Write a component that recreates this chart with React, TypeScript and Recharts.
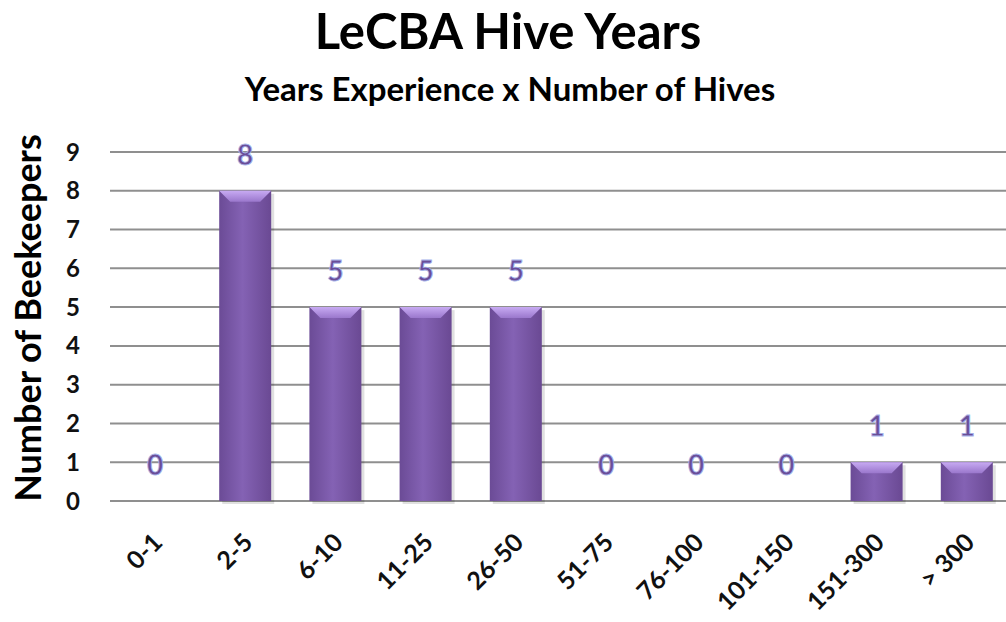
import { Bar, BarChart, CartesianGrid, LabelList, XAxis, YAxis } from "recharts";

const categories = ["0-1", "2-5", "6-10", "11-25", "26-50", "51-75", "76-100", "101-150", "151-300", "> 300"];
const beekeepers = [0, 8, 5, 5, 5, 0, 0, 0, 1, 1];
const yTicks = [0, 1, 2, 3, 4, 5, 6, 7, 8, 9];

const data = categories.map((range, i) => ({ range, count: beekeepers[i] }));

const FONT = "Lato, 'Open Sans', sans-serif";

function BevelBar(props: any) {
  const { x, y, width, height } = props;
  if (!height || height <= 0) return null;
  const b = Math.min(11, height / 2);
  return (
    <g>
      <rect x={x + 3} y={y + 3} width={width} height={height} fill="rgba(0,0,0,0.12)" />
      <rect x={x} y={y} width={width} height={height} fill="url(#barBody)" />
      <polygon
        points={`${x},${y} ${x + width},${y} ${x + width - b},${y + b} ${x + b},${y + b}`}
        fill="url(#barTop)"
      />
    </g>
  );
}

function XTick(props: any) {
  const { x, y, payload } = props;
  return (
    <text
      x={x + 9}
      y={y + 35}
      transform={`rotate(-45, ${x + 9}, ${y + 35})`}
      textAnchor="end"
      fontFamily={FONT}
      fontWeight={700}
      fontSize={25}
      fill="#111"
    >
      {payload.value}
    </text>
  );
}

export default function App() {
  return (
    <div style={{ position: "absolute", left: 0, top: 0, width: 1006, height: 622, overflow: "hidden", background: "#fff" }}>
      <div style={{ position: "absolute", left: 0, top: 1, width: 1016, textAlign: "center", fontFamily: FONT, fontWeight: 700, fontSize: 49, color: "#000" }}>
        LeCBA Hive Years
      </div>
      <div style={{ position: "absolute", left: 0, top: 68, width: 1020, textAlign: "center", fontFamily: FONT, fontWeight: 700, fontSize: 33, color: "#000" }}>
        Years Experience x Number of Hives
      </div>
      <div
        style={{
          position: "absolute",
          left: 27,
          top: 318,
          transform: "translate(-50%, -50%) rotate(-90deg)",
          whiteSpace: "nowrap",
          fontFamily: FONT,
          fontWeight: 700,
          fontSize: 36,
          color: "#000",
        }}
      >
        Number of Beekeepers
      </div>
      <BarChart width={1012} height={622} data={data} margin={{ top: 152, right: 0, left: 0, bottom: 0 }}>
        <defs>
          <linearGradient id="barBody" x1="0" y1="0" x2="1" y2="0">
            <stop offset="0%" stopColor="#6b4b96" />
            <stop offset="45%" stopColor="#8462b4" />
            <stop offset="100%" stopColor="#6a4993" />
          </linearGradient>
          <linearGradient id="barTop" x1="0" y1="0" x2="0" y2="1">
            <stop offset="0%" stopColor="#c7aaf2" />
            <stop offset="100%" stopColor="#9a77cc" />
          </linearGradient>
        </defs>
        <CartesianGrid vertical={false} stroke="#8f8f8f" strokeWidth={2} />
        <XAxis
          dataKey="range"
          axisLine={false}
          tickLine={false}
          height={121}
          interval={0}
          tick={<XTick />}
        />
        <YAxis
          width={110}
          domain={[0, 9]}
          ticks={yTicks}
          axisLine={false}
          tickLine={false}
          tickSize={0}
          tickMargin={30}
          tick={{ fontFamily: FONT, fontWeight: 700, fontSize: 24, fill: "#111" }}
        />
        <Bar dataKey="count" barSize={52} shape={<BevelBar />} isAnimationActive={false}>
          <LabelList
            dataKey="count"
            position="top"
            offset={26}
            fontFamily={FONT}
            fontWeight={700}
            fontSize={28}
            fill="#6a4e98"
            stroke="#a9b6ec"
            strokeWidth={0.8}
          />
        </Bar>
      </BarChart>
    </div>
  );
}
